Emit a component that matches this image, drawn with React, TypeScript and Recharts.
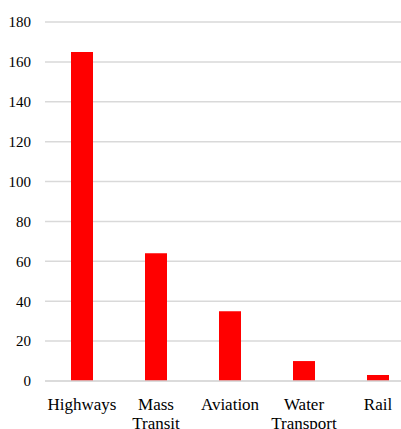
import React from 'react';
import { BarChart, Bar, XAxis, YAxis, CartesianGrid } from 'recharts';

const categories = ['Highways', 'Mass Transit', 'Aviation', 'Water Transport', 'Rail'];
const spending = [165, 64, 35, 10, 3];
const yTicks = [0, 20, 40, 60, 80, 100, 120, 140, 160, 180];

const data = categories.map((name, i) => ({ name, value: spending[i] }));

const FONT = "'Liberation Serif', 'DejaVu Serif', serif";

// two-line category labels: split on the space
function CategoryTick({ x, y, payload }: any) {
    const lines = String(payload.value).split(' ');
    return (
        <text x={x} y={y} textAnchor="middle" fill="#000" style={{ fontFamily: FONT, fontSize: 17 }}>
            {lines.map((line, i) => (
                <tspan key={i} x={x} dy={i === 0 ? 21 : 19}>
                    {line}
                </tspan>
            ))}
        </text>
    );
}

export default function App() {
    return (
        <div
            style={{
                position: 'fixed',
                left: 0,
                top: 0,
                width: 401,
                height: 429,
                overflow: 'hidden',
                background: '#fff',
                fontFamily: FONT,
            }}
        >
            <BarChart
                width={415}
                height={429}
                data={data}
                margin={{ top: 22, right: 0, bottom: 0, left: 0 }}
                style={{ fontFamily: FONT }}
            >
                <CartesianGrid vertical={false} stroke="#d9d9d9" strokeWidth={1.5} />
                <XAxis
                    dataKey="name"
                    height={48}
                    interval={0}
                    tickLine={false}
                    axisLine={{ stroke: '#d9d9d9', strokeWidth: 1.5 }}
                    tick={<CategoryTick />}
                />
                <YAxis
                    width={45}
                    domain={[0, 180]}
                    ticks={yTicks}
                    interval={0}
                    axisLine={false}
                    tickLine={false}
                    tickMargin={8}
                    tick={{ fill: '#000', fontSize: 15, style: { fontFamily: FONT } }}
                />
                <Bar dataKey="value" fill="#ff0000" barSize={22} isAnimationActive={false} />
            </BarChart>
        </div>
    );
}
